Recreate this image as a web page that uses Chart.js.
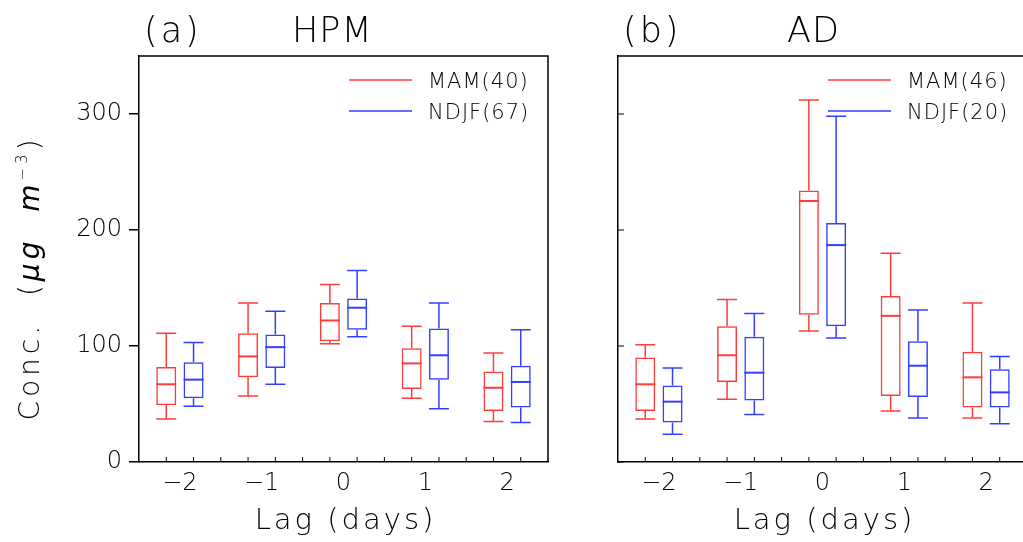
<!DOCTYPE html>
<html>
<head>
<meta charset="utf-8">
<script src="https://cdn.jsdelivr.net/npm/chart.js@4"></script>
<style>
  html, body { margin: 0; padding: 0; background: #fff; overflow: hidden; }
  #wrap { position: relative; width: 1023px; height: 542px; overflow: hidden; }
  canvas { position: absolute; top: 0; }
  #chartA { left: 0; }
  #chartB { left: 479px; }
</style>
</head>
<body>
<div id="wrap">
  <canvas id="chartA" width="580" height="542"></canvas>
  <canvas id="chartB" width="580" height="542"></canvas>
</div>
<script>
// ---- categories / ticks ----
const lags = ["\u22122", "\u22121", "0", "1", "2"];
const yTicks = [0, 100, 200, 300];

// ---- (a) HPM ----
const hpmMamLow  = [37, 57, 102, 55, 35];
const hpmMamQ1   = [49, 73, 104, 63, 44];
const hpmMamMed  = [67, 91, 122, 85, 64];
const hpmMamQ3   = [82, 111, 137, 98, 78];
const hpmMamHigh = [111, 137, 153, 117, 94];

const hpmNdjfLow  = [48, 67, 108, 46, 34];
const hpmNdjfQ1   = [55, 81, 114, 71, 47];
const hpmNdjfMed  = [71, 99, 133, 92, 69];
const hpmNdjfQ3   = [86, 110, 141, 115, 83];
const hpmNdjfHigh = [103, 130, 165, 137, 114];

// ---- (b) AD ----
const adMamLow  = [37, 54, 113, 44, 38];
const adMamQ1   = [44, 69, 127, 57, 47];
const adMamMed  = [67, 92, 225, 126, 73];
const adMamQ3   = [90, 117, 234, 143, 95];
const adMamHigh = [101, 140, 312, 180, 137];

const adNdjfLow  = [24, 41, 107, 38, 33];
const adNdjfQ1   = [34, 53, 117, 56, 47];
const adNdjfMed  = [52, 77, 187, 83, 60];
const adNdjfQ3   = [66, 108, 206, 104, 80];
const adNdjfHigh = [81, 128, 298, 131, 91];

const RED = "#ff3c3c";
const BLUE = "#3340ff";
const FONT = '"DejaVu Sans", sans-serif';
const TXT = "#000";

function makePanel(canvasId, cfg) {
  const ctx = document.getElementById(canvasId).getContext("2d");

  const decor = {
    id: "decor",
    // whiskers + medians
    afterDatasetsDraw(chart) {
      const c = chart.ctx, y = chart.scales.y;
      cfg.series.forEach((s, d) => {
        chart.getDatasetMeta(d).data.forEach((bar, i) => {
          const x = bar.x, half = bar.width / 2;
          const pHi = y.getPixelForValue(s.high[i]);
          const pQ3 = y.getPixelForValue(s.q3[i]);
          const pQ1 = y.getPixelForValue(s.q1[i]);
          const pLo = y.getPixelForValue(s.low[i]);
          const pMed = y.getPixelForValue(s.med[i]);
          c.save();
          c.strokeStyle = s.color;
          c.lineWidth = 1.5;
          c.beginPath();
          c.moveTo(x, pQ3); c.lineTo(x, pHi);
          c.moveTo(x - half, pHi); c.lineTo(x + half, pHi);
          c.moveTo(x, pQ1); c.lineTo(x, pLo);
          c.moveTo(x - half, pLo); c.lineTo(x + half, pLo);
          c.stroke();
          c.lineWidth = 2;
          c.beginPath();
          c.moveTo(x - half, pMed); c.lineTo(x + half, pMed);
          c.stroke();
          c.restore();
        });
      });
    },
    afterDraw(chart) {
      const c = chart.ctx;
      const { left, right, top, bottom } = chart.chartArea;
      const xs = chart.scales.x, ys = chart.scales.y;
      c.save();
      // frame top / right
      c.strokeStyle = "#000";
      c.lineWidth = 1.5;
      c.beginPath();
      c.moveTo(left, top); c.lineTo(right, top); c.lineTo(right, bottom);
      c.stroke();
      // minor x ticks, inward
      c.lineWidth = 1;
      c.beginPath();
      for (let k = 1; k < 15; k++) {
        const px = xs.getPixelForValue(-0.5 + k / 3);
        c.moveTo(px, bottom); c.lineTo(px, bottom - 5);
      }
      if (!cfg.yLabels) {
        ys.ticks.forEach(t => {
          const py = ys.getPixelForValue(t.value);
          c.moveTo(left, py); c.lineTo(left + 6, py);
        });
      }
      c.stroke();

      // legend
      c.fillStyle = TXT;
      c.font = "200 21px " + FONT;
      c.letterSpacing = "1px";
      c.textBaseline = "alphabetic";
      c.textAlign = "left";
      cfg.series.forEach((s, d) => {
        const ly = 80 + 31 * d;
        c.strokeStyle = s.color;
        c.lineWidth = 1.5;
        c.beginPath();
        c.moveTo(left + 210, ly); c.lineTo(left + 273, ly);
        c.stroke();
        c.fillText(s.name, left + 289, ly + 8);
      });

      // panel title
      c.font = "200 35px " + FONT;
      c.letterSpacing = "3px";
      c.fillText(cfg.tag, left + 5, 42);
      c.letterSpacing = "1px";
      c.fillText(cfg.title, left + cfg.titleDx, 42);

      // x axis title
      c.font = "200 29px " + FONT;
      c.letterSpacing = "3px";
      c.textAlign = "center";
      c.fillText("Lag (days)", (left + right) / 2 + 2, 529);

      // y axis title
      if (cfg.yLabels) {
        c.translate(30, 278);
        c.rotate(-Math.PI / 2);
        const parts = [
          { t: "Conc.  (", f: "200 28px " + FONT, dy: 0 },
          { t: "\u03bcg", f: "italic 200 28px " + FONT, dy: 0 },
          { t: "  ", f: "200 28px " + FONT, dy: 0 },
          { t: "m", f: "italic 200 28px " + FONT, dy: 0 },
          { t: "\u22123", f: "200 15px " + FONT, dy: -12 },
          { t: ")", f: "200 28px " + FONT, dy: 0 }
        ];
        c.letterSpacing = "4px";
        c.textAlign = "left";
        let total = 0;
        parts.forEach(p => { c.font = p.f; p.w = c.measureText(p.t).width; total += p.w; });
        let px = -total / 2;
        parts.forEach(p => {
          c.font = p.f;
          c.fillText(p.t, px, 9 + p.dy);
          px += p.w;
        });
      }
      c.restore();
    }
  };

  const datasets = cfg.series.map(s => ({
    label: s.name,
    data: s.q1.map((v, i) => [v, s.q3[i]]),
    borderColor: s.color,
    backgroundColor: "rgba(0,0,0,0)",
    borderWidth: 1.5,
    borderSkipped: false,
    categoryPercentage: 0.667,
    barPercentage: 0.733
  }));

  return new Chart(ctx, {
    type: "bar",
    data: { labels: lags, datasets },
    options: {
      responsive: false,
      animation: false,
      devicePixelRatio: 1,
      layout: { padding: { left: 59, right: 32, top: 56, bottom: 0 } },
      plugins: { legend: { display: false }, tooltip: { enabled: false } },
      scales: {
        x: {
          offset: true,
          grid: { display: false, drawTicks: false },
          border: { display: true, color: "#000", width: 1.5 },
          ticks: {
            color: TXT, padding: 7, maxRotation: 0, autoSkip: false,
            font: { family: FONT, size: 24, weight: 200 }
          },
          afterFit(s) { s.height = 80; }
        },
        y: {
          min: 0, max: 350,
          afterBuildTicks(s) { s.ticks = yTicks.map(v => ({ value: v })); },
          ticks: {
            display: cfg.yLabels,
            color: TXT, padding: 7,
            font: { family: FONT, size: 24, weight: 200 }
          },
          grid: {
            display: cfg.yLabels, drawOnChartArea: false, drawTicks: true,
            tickLength: 10, color: "#000", lineWidth: 1.5
          },
          border: { display: true, color: "#000", width: 1.5 },
          afterFit(s) { s.width = 80; }
        }
      }
    },
    plugins: [decor]
  });
}

makePanel("chartA", {
  tag: "(a)", title: "HPM", titleDx: 153, yLabels: true,
  series: [
    { name: "MAM(40)", color: RED, low: hpmMamLow, q1: hpmMamQ1, med: hpmMamMed, q3: hpmMamQ3, high: hpmMamHigh },
    { name: "NDJF(67)", color: BLUE, low: hpmNdjfLow, q1: hpmNdjfQ1, med: hpmNdjfMed, q3: hpmNdjfQ3, high: hpmNdjfHigh }
  ]
});

makePanel("chartB", {
  tag: "(b)", title: "AD", titleDx: 169, yLabels: false,
  series: [
    { name: "MAM(46)", color: RED, low: adMamLow, q1: adMamQ1, med: adMamMed, q3: adMamQ3, high: adMamHigh },
    { name: "NDJF(20)", color: BLUE, low: adNdjfLow, q1: adNdjfQ1, med: adNdjfMed, q3: adNdjfQ3, high: adNdjfHigh }
  ]
});
</script>
</body>
</html>
